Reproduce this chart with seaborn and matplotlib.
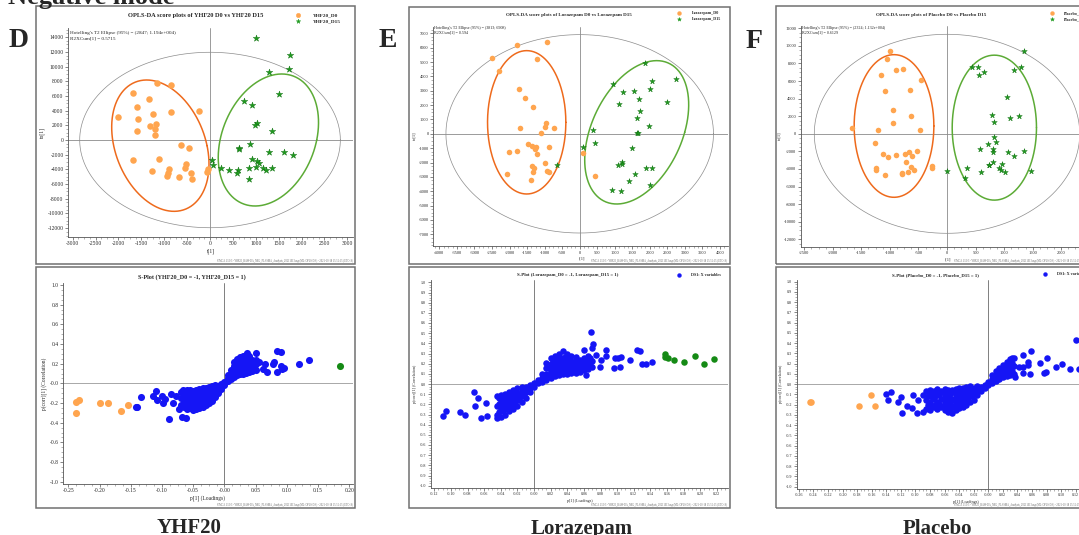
import numpy as np
import matplotlib
matplotlib.use("Agg")
import matplotlib.pyplot as plt
import seaborn as sns
from matplotlib.patches import Rectangle
from matplotlib.lines import Line2D
from matplotlib.ticker import FixedLocator, FuncFormatter, AutoMinorLocator

# ---------------- DATA ----------------
# YHF20 score plot (t[1], to[1])
yhf_d0_t = [-2017, -1690, -1602, -1580, -1602, -1333, -1253, -1311, -1180, -1202, -1194, -1151, -845, -859, -233,
            -626, -452, -1690, -1122, -1267, -903, -918, -932, -677, -532, -546, -408, -401, -73, -36]
yhf_d0_to = [3085, 6352, 4446, 2813, 1270, 5535, 3539, 1951, 2132, 1452, 726, 7804, 7532, 3766, 3993,
             -726, -1134, -2768, -2586, -4220, -3993, -4537, -4900, -5082, -3221, -3857, -4492, -5309, -4356, -3993]
yhf_d15_t = [1005, 1748, 1719, 1289, 1500, 736, 925, 1034, 990, 1355, 874, 641, 641, 1296, 1610, 1821, 925, 1020,
             1063, 51, 73, 233, 422, 619, 583, 852, 1005, 1151, 1216, 1355, 859]
yhf_d15_to = [13929, 11570, 9664, 9210, 6216, 5354, 4809, 2269, 2087, 1225, -544, -1134, -1225, -1633, -1633, -2087,
              -2586, -2813, -3085, -2768, -3358, -3857, -4083, -4083, -4537, -3857, -3630, -3857, -4129, -3811, -5263]

# Lorazepam score plot
lor_d0_t = [-2508, -2290, -1777, -941, -1226, -1720, -1549, -1330, -1691, -969, -979, -732, -1093, -1473, -1349,
            -1235, -884, -1264, -1226, -2024, -1777, -1349, -1292, -1321, -988, -941, -874, -2062, -1378, 95, 437]
lor_d0_to = [5259, 4376, 6188, 6420, 5236, 3100, 2473, 1846, 430, 778, 499, 430, 35, -731, -847,
             -940, -894, -1079, -1405, -1289, -1173, -2241, -2403, -2635, -2055, -2566, -2682, -2798, -3216, -1358, -2937]
lor_d15_t = [1862, 2062, 2746, 2005, 941, 1226, 1539, 1682, 2480, 1112, 1729, 1625, 1986, 380, 1644, 1653, 437, 95,
             1501, -656, 1197, 1197, 1093, 1881, 2062, 1568, 1416, 2005, 922, 1169]
lor_d15_to = [4957, 3680, 3820, 3100, 3471, 2937, 2984, 2450, 2217, 2101, 1590, 1080, 569, 267, 81, 35, -615, -894,
              -1010, -2148, -1985, -2125, -2171, -2403, -2403, -2775, -3309, -3588, -3913, -3982]

# Placebo score plot
pla_d0_t = [-1004, -1057, -1162, -899, -776, -461, -648, -1092, -940, -946, -630, -1664, -1214, -473, -1255, -1115,
            -1027, -893, -736, -660, -619, -531, -718, -630, -1243, -1249, -1086, -782, -782, -689, -572, -269, -269]
pla_d0_to = [9422, 8474, 6730, 7223, 7336, 6123, 4986, 4872, 2711, 1194, 2066, 626, 436, 436, -1005, -2256,
             -2635, -2408, -2332, -2104, -2521, -1915, -3242, -3735, -3848, -4076, -4720, -4417, -4569, -4379, -4114, -3659, -3924]
pla_d15_t = [1343, 432, 543, 566, 654, 1173, 1296, 1057, 794, 829, 1103, 1261, 823, 858, 724, 800, 800, 578, 1074,
             1173, 1354, 811, 736, 736, 969, 911, 946, 1016, 1471, 356, 590, 6, 315]
pla_d15_to = [9460, 7640, 7640, 6730, 6996, 7261, 7640, 4152, 2142, 1308, 1839, 2028, -360, -967, -1194, -1725,
              -2028, -1763, -2028, -2559, -1952, -3242, -3507, -3583, -3394, -3924, -4114, -4341, -4228, -3848, -4303, -4228, -5062]

# Hotelling T2 ellipse radii (t, to) and group ellipses: centre, upper semi-diameter, horizontal half-chord
hotelling = {"YHF20": (2847, 11940), "Lorazepam": (3813, 6908), "Placebo": (2324, 11320)}
group_ell = {
    "YHF20": [(-1085, -771, -299, 8938, 1020), (1275, 0, 291, 8984, 1056)],
    "Lorazepam": [(-1511, 801, 0, 4992, 1116), (1625, 104, 570, 4992, 1368)],
    "Placebo": [(-928, 891, 0, 8114, 698), (829, 701, 0, 8246, 738)],
}

# S-plots: p[1] loadings, p(corr)[1]
yhf_s_d0 = [(-0.2376, -0.186), (-0.2322, -0.169), (-0.237, -0.305), (-0.200, -0.203), (-0.186, -0.203),
            (-0.166, -0.278), (-0.154, -0.220)]
yhf_s_d15 = [(0.185, 0.176)]
yhf_s_blue = [
    (-0.142, -0.24), (-0.140, -0.245), (-0.134, -0.135), (-0.115, -0.13), (-0.110, -0.08), (-0.108, -0.17),
    (-0.100, -0.13), (-0.095, -0.16), (-0.098, -0.20), (-0.088, -0.36), (-0.085, -0.11), (-0.082, -0.20),
    (-0.078, -0.13), (-0.072, -0.26), (-0.068, -0.34), (-0.066, -0.07), (-0.062, -0.35), (-0.060, -0.22),
    (-0.070, -0.22), (-0.070, -0.15), (-0.070, -0.09), (-0.065, -0.24), (-0.065, -0.17), (-0.065, -0.10),
    (-0.060, -0.26), (-0.060, -0.19), (-0.060, -0.12), (-0.060, -0.07), (-0.055, -0.25), (-0.055, -0.18),
    (-0.055, -0.12), (-0.055, -0.07), (-0.050, -0.27), (-0.050, -0.21), (-0.050, -0.14), (-0.050, -0.08),
    (-0.045, -0.26), (-0.045, -0.20), (-0.045, -0.13), (-0.045, -0.07), (-0.040, -0.25), (-0.040, -0.19),
    (-0.040, -0.12), (-0.040, -0.06), (-0.035, -0.24), (-0.035, -0.18), (-0.035, -0.11), (-0.035, -0.05),
    (-0.030, -0.22), (-0.030, -0.16), (-0.030, -0.10), (-0.030, -0.05), (-0.025, -0.20), (-0.025, -0.14),
    (-0.025, -0.08), (-0.025, -0.04), (-0.020, -0.18), (-0.020, -0.12), (-0.020, -0.07), (-0.020, -0.03),
    (-0.015, -0.14), (-0.015, -0.09), (-0.015, -0.05), (-0.015, -0.02), (-0.010, -0.10), (-0.010, -0.06),
    (-0.010, -0.03), (-0.005, -0.06), (-0.005, -0.03), (-0.005, -0.01), (0.000, -0.02), (0.000, 0.01),
    (0.005, 0.02), (0.005, 0.05), (0.005, 0.08), (0.010, 0.04), (0.010, 0.09), (0.010, 0.14),
    (0.015, 0.06), (0.015, 0.12), (0.015, 0.18), (0.015, 0.22), (0.020, 0.08), (0.020, 0.14), (0.020, 0.20),
    (0.020, 0.25), (0.025, 0.09), (0.025, 0.15), (0.025, 0.21), (0.025, 0.27), (0.030, 0.10), (0.030, 0.16),
    (0.030, 0.22), (0.030, 0.28), (0.035, 0.11), (0.035, 0.17), (0.035, 0.23), (0.035, 0.29), (0.040, 0.12),
    (0.040, 0.18), (0.040, 0.24), (0.040, 0.28), (0.045, 0.13), (0.045, 0.19), (0.045, 0.24), (0.050, 0.14),
    (0.050, 0.20), (0.050, 0.24), (0.037, 0.31), (0.050, 0.31), (0.055, 0.22), (0.062, 0.15), (0.065, 0.20),
    (0.068, 0.12), (0.078, 0.20), (0.085, 0.33), (0.090, 0.32), (0.085, 0.12), (0.090, 0.18), (0.095, 0.16),
    (0.120, 0.20), (0.136, 0.24), (0.080, 0.22), (0.092, 0.15),
    (-0.0625, -0.22), (-0.0625, -0.15), (-0.0575, -0.22), (-0.0575, -0.15), (-0.0525, -0.24), (-0.0525, -0.17),
    (-0.0525, -0.11), (-0.0475, -0.23), (-0.0475, -0.16), (-0.0475, -0.10), (-0.0425, -0.22), (-0.0425, -0.15),
    (-0.0425, -0.09), (-0.0375, -0.21), (-0.0375, -0.14), (-0.0375, -0.08), (-0.0325, -0.19), (-0.0325, -0.13),
    (-0.0325, -0.07), (-0.0275, -0.17), (-0.0275, -0.11), (-0.0225, -0.15), (-0.0225, -0.09), (-0.0175, -0.12),
    (-0.0175, -0.07), (-0.0125, -0.08), (0.0125, 0.07), (0.0125, 0.12), (0.0175, 0.09), (0.0175, 0.16),
    (0.0225, 0.11), (0.0225, 0.17), (0.0225, 0.23), (0.0275, 0.12), (0.0275, 0.18), (0.0275, 0.24),
    (0.0325, 0.13), (0.0325, 0.19), (0.0325, 0.25), (0.0375, 0.14), (0.0375, 0.20), (0.0375, 0.26),
    (0.0425, 0.15), (0.0425, 0.21), (0.0475, 0.16), (0.0475, 0.22)]

lor_s_d15 = [(0.158, 0.295), (0.158, 0.269), (0.161, 0.259), (0.168, 0.236), (0.181, 0.22), (0.194, 0.275),
             (0.204, 0.193), (0.216, 0.246)]
lor_s_blue = [
    (-0.109, -0.311), (-0.106, -0.262), (-0.089, -0.272), (-0.083, -0.305), (-0.072, -0.075), (-0.068, -0.141),
    (-0.071, -0.216), (-0.058, -0.184), (-0.057, -0.315), (-0.064, -0.338),
    (-0.045, -0.33), (-0.045, -0.30), (-0.045, -0.22), (-0.045, -0.12), (-0.040, -0.32), (-0.040, -0.25),
    (-0.040, -0.18), (-0.040, -0.11), (-0.035, -0.30), (-0.035, -0.23), (-0.035, -0.16), (-0.035, -0.10),
    (-0.030, -0.27), (-0.030, -0.20), (-0.030, -0.14), (-0.030, -0.08), (-0.025, -0.25), (-0.025, -0.18),
    (-0.025, -0.12), (-0.025, -0.06), (-0.020, -0.22), (-0.020, -0.15), (-0.020, -0.09), (-0.020, -0.04),
    (-0.015, -0.18), (-0.015, -0.12), (-0.015, -0.06), (-0.015, -0.03), (-0.010, -0.14), (-0.010, -0.08),
    (-0.010, -0.03), (-0.005, -0.08), (-0.005, -0.04), (-0.005, -0.01), (0.000, -0.03), (0.000, 0.01),
    (0.005, 0.01), (0.005, 0.04), (0.010, 0.02), (0.010, 0.06), (0.010, 0.10), (0.015, 0.04), (0.015, 0.10),
    (0.015, 0.16), (0.015, 0.21), (0.020, 0.06), (0.020, 0.13), (0.020, 0.20), (0.020, 0.26), (0.025, 0.08),
    (0.025, 0.14), (0.025, 0.21), (0.025, 0.28), (0.030, 0.09), (0.030, 0.15), (0.030, 0.22), (0.030, 0.30),
    (0.035, 0.10), (0.035, 0.16), (0.035, 0.23), (0.035, 0.32), (0.040, 0.10), (0.040, 0.17), (0.040, 0.24),
    (0.040, 0.30), (0.045, 0.11), (0.045, 0.17), (0.045, 0.23), (0.045, 0.28), (0.050, 0.11), (0.050, 0.17),
    (0.050, 0.24), (0.050, 0.27), (0.055, 0.12), (0.055, 0.18), (0.055, 0.24), (0.060, 0.14), (0.060, 0.20),
    (0.060, 0.26), (0.060, 0.33), (0.065, 0.15), (0.065, 0.21), (0.065, 0.28), (0.070, 0.17), (0.070, 0.23),
    (0.070, 0.35), (0.0686, 0.508), (0.071, 0.39), (0.086, 0.334), (0.087, 0.275), (0.081, 0.236), (0.097, 0.252),
    (0.101, 0.26), (0.105, 0.27), (0.096, 0.154), (0.103, 0.164), (0.115, 0.236), (0.124, 0.334), (0.127, 0.325),
    (0.130, 0.20), (0.135, 0.20), (0.142, 0.22), (0.079, 0.17), (0.075, 0.285), (0.063, 0.09),
    (-0.0425, -0.28), (-0.0425, -0.20), (-0.0425, -0.14), (-0.0375, -0.27), (-0.0375, -0.20), (-0.0375, -0.13),
    (-0.0325, -0.25), (-0.0325, -0.18), (-0.0325, -0.11), (-0.0275, -0.23), (-0.0275, -0.16), (-0.0275, -0.10),
    (-0.0225, -0.20), (-0.0225, -0.13), (-0.0225, -0.07), (-0.0175, -0.16), (-0.0175, -0.10), (-0.0125, -0.11),
    (-0.0125, -0.05), (0.0125, 0.07), (0.0175, 0.09), (0.0175, 0.16), (0.0225, 0.10), (0.0225, 0.17),
    (0.0225, 0.23), (0.0275, 0.11), (0.0275, 0.18), (0.0275, 0.25), (0.0325, 0.12), (0.0325, 0.19),
    (0.0325, 0.26), (0.0375, 0.13), (0.0375, 0.20), (0.0375, 0.27), (0.0425, 0.14), (0.0425, 0.21),
    (0.0425, 0.27), (0.0475, 0.14), (0.0475, 0.20), (0.0525, 0.15), (0.0525, 0.21), (0.0575, 0.16),
    (0.0575, 0.22), (0.0625, 0.18), (0.0625, 0.24), (0.0675, 0.19), (0.0675, 0.26)]

pla_s_d0 = [(-0.2449, -0.171), (-0.2435, -0.171), (-0.177, -0.21), (-0.161, -0.106), (-0.155, -0.21)]
pla_s_blue = [
    (-0.1405, -0.093), (-0.133, -0.073), (-0.137, -0.154), (-0.120, -0.122), (-0.1236, -0.171), (-0.118, -0.278),
    (-0.112, -0.213), (-0.105, -0.236), (-0.103, -0.106), (-0.098, -0.285), (-0.096, -0.154), (-0.090, -0.106),
    (-0.089, -0.268),
    (-0.085, -0.24), (-0.085, -0.15), (-0.085, -0.07), (-0.080, -0.25), (-0.080, -0.17), (-0.080, -0.10),
    (-0.080, -0.06), (-0.075, -0.22), (-0.075, -0.14), (-0.075, -0.07), (-0.070, -0.24), (-0.070, -0.17),
    (-0.070, -0.10), (-0.070, -0.05), (-0.065, -0.22), (-0.065, -0.14), (-0.065, -0.07), (-0.060, -0.25),
    (-0.060, -0.18), (-0.060, -0.11), (-0.060, -0.05), (-0.055, -0.27), (-0.055, -0.20), (-0.055, -0.13),
    (-0.055, -0.06), (-0.050, -0.28), (-0.050, -0.21), (-0.050, -0.14), (-0.050, -0.06), (-0.045, -0.25),
    (-0.045, -0.18), (-0.045, -0.11), (-0.045, -0.05), (-0.040, -0.23), (-0.040, -0.16), (-0.040, -0.09),
    (-0.040, -0.04), (-0.035, -0.22), (-0.035, -0.15), (-0.035, -0.08), (-0.035, -0.04), (-0.030, -0.20),
    (-0.030, -0.13), (-0.030, -0.07), (-0.030, -0.03), (-0.025, -0.17), (-0.025, -0.11), (-0.025, -0.05),
    (-0.025, -0.02), (-0.020, -0.15), (-0.020, -0.09), (-0.020, -0.04), (-0.015, -0.11), (-0.015, -0.06),
    (-0.015, -0.02), (-0.010, -0.07), (-0.010, -0.03), (-0.005, -0.04), (-0.005, -0.01), (0.000, -0.01),
    (0.000, 0.02), (0.005, 0.01), (0.005, 0.05), (0.005, 0.09), (0.010, 0.03), (0.010, 0.08), (0.010, 0.13),
    (0.015, 0.05), (0.015, 0.10), (0.015, 0.16), (0.020, 0.07), (0.020, 0.13), (0.020, 0.19), (0.025, 0.08),
    (0.025, 0.15), (0.025, 0.22), (0.030, 0.09), (0.030, 0.17), (0.030, 0.25), (0.035, 0.10), (0.035, 0.18),
    (0.035, 0.26),
    (0.033, 0.259), (0.047, 0.28), (0.0586, 0.32), (0.055, 0.22), (0.054, 0.187), (0.048, 0.17), (0.042, 0.17),
    (0.037, 0.073), (0.048, 0.112), (0.057, 0.096), (0.071, 0.203), (0.076, 0.105), (0.079, 0.122),
    (0.081, 0.252), (0.093, 0.164), (0.101, 0.193), (0.112, 0.145), (0.121, 0.431), (0.125, 0.145),
    (-0.0825, -0.20), (-0.0825, -0.12), (-0.0775, -0.21), (-0.0775, -0.13), (-0.0725, -0.20), (-0.0725, -0.12),
    (-0.0675, -0.19), (-0.0675, -0.11), (-0.0625, -0.21), (-0.0625, -0.14), (-0.0625, -0.08), (-0.0575, -0.23),
    (-0.0575, -0.16), (-0.0575, -0.09), (-0.0525, -0.24), (-0.0525, -0.17), (-0.0525, -0.10), (-0.0475, -0.22),
    (-0.0475, -0.15), (-0.0475, -0.08), (-0.0425, -0.20), (-0.0425, -0.13), (-0.0425, -0.07), (-0.0375, -0.19),
    (-0.0375, -0.12), (-0.0375, -0.06), (-0.0325, -0.17), (-0.0325, -0.10), (-0.0275, -0.15), (-0.0275, -0.08),
    (-0.0225, -0.12), (-0.0225, -0.06), (-0.0175, -0.08), (-0.0125, -0.05), (0.0075, 0.06), (0.0125, 0.08),
    (0.0175, 0.10), (0.0175, 0.15), (0.0225, 0.11), (0.0225, 0.17), (0.0275, 0.12), (0.0275, 0.19),
    (0.0325, 0.13), (0.0325, 0.21)]

# ---------------- STYLE ----------------
sns.set_theme(style="white")
plt.rcParams['font.family'] = ['Liberation Serif', 'DejaVu Serif']
plt.rcParams['axes.unicode_minus'] = False

ORANGE = "#FFA54F"
GREEN_STAR = "#1E9A1E"
ELL_OR = "#EE6A1C"
ELL_GR = "#5CAB36"
BLUE = "#1515F5"
SGREEN = "#158A15"

W, H = 1079, 535
fig = plt.figure(figsize=(W / 100, H / 100), dpi=100)
fig.patch.set_facecolor("white")


def fx(x):
    return x / W


def fy(y):
    return 1 - y / H


def add_ax(l, t, r, b):
    ax = fig.add_axes([l / W, 1 - b / H, (r - l) / W, (b - t) / H])
    ax.set_facecolor("none")
    for s in ("top", "right"):
        ax.spines[s].set_visible(False)
    for s in ("left", "bottom"):
        ax.spines[s].set_color("#555555")
        ax.spines[s].set_linewidth(0.6)
    return ax


def frame(l, t, r, b):
    fig.add_artist(Rectangle((fx(l), fy(b)), (r - l) / W, (b - t) / H, transform=fig.transFigure,
                             fill=False, ec="#707070", lw=1.1))


def style_ticks(ax, fs, xt, yt, xfmt, yfmt):
    ax.xaxis.set_major_locator(FixedLocator(xt))
    ax.yaxis.set_major_locator(FixedLocator(yt))
    ax.xaxis.set_major_formatter(FuncFormatter(xfmt))
    ax.yaxis.set_major_formatter(FuncFormatter(yfmt))
    ax.xaxis.set_minor_locator(AutoMinorLocator(4))
    ax.yaxis.set_minor_locator(AutoMinorLocator(4))
    ax.tick_params(axis="both", which="major", direction="out", length=2.2, width=0.5, pad=1.2,
                   labelsize=fs, color="#555555", bottom=True, left=True)
    ax.tick_params(axis="both", which="minor", direction="out", length=1.2, width=0.4, color="#777777",
                   bottom=True, left=True)


def ellipse_curve(ax, cx, cy, ux, uy, hx, color, lw):
    t = np.linspace(0, 2 * np.pi, 300)
    ax.plot(cx + ux * np.sin(t) + hx * np.cos(t), cy + uy * np.sin(t), color=color, lw=lw)


def int_fmt(v, p):
    return f"{int(round(v))}"


def score_panel(box, xlim, ylim, xt, yt, fs, name, d0, d15, ms):
    ax = add_ax(*box)
    ax.set_xlim(*xlim)
    ax.set_ylim(*ylim)
    ax.axhline(0, color="#8a8a8a", lw=0.6)
    ax.axvline(0, color="#8a8a8a", lw=0.6)
    rx, ry = hotelling[name]
    ellipse_curve(ax, 0, 0, 0, ry, rx, "#8c8c8c", 0.5)
    (o, g) = group_ell[name]
    ellipse_curve(ax, *o, ELL_OR, 1.1)
    ellipse_curve(ax, *g, ELL_GR, 1.1)
    sns.scatterplot(x=d0[0], y=d0[1], ax=ax, color=ORANGE, marker="o", s=ms, linewidth=0, legend=False, zorder=3)
    sns.scatterplot(x=d15[0], y=d15[1], ax=ax, color=GREEN_STAR, marker="*", s=ms * 1.1, linewidth=0.3,
                    edgecolor="#0d6e0d", legend=False, zorder=3)
    style_ticks(ax, fs, xt, yt, int_fmt, int_fmt)
    ax.set_xlabel("t[1]", fontsize=fs, labelpad=1.5)
    ax.set_ylabel("to[1]", fontsize=fs, labelpad=1.5)
    return ax


def s_panel(box, xlim, xt, yt, fs, blue, orange, green, ms, zero_y_neg):
    ax = add_ax(*box)
    ax.set_xlim(*xlim)
    ax.set_ylim(-1.02, 1.02)
    ax.axhline(0, color="#9a9a9a", lw=0.6)
    ax.axvline(0, color="#6a6a6a", lw=0.6)
    bx, by = zip(*blue)
    sns.scatterplot(x=list(bx), y=list(by), ax=ax, color=BLUE, s=ms, linewidth=0, legend=False, zorder=3)
    if orange:
        ox, oy = zip(*orange)
        sns.scatterplot(x=list(ox), y=list(oy), ax=ax, color=ORANGE, s=ms, linewidth=0, legend=False, zorder=3)
    if green:
        gx, gy = zip(*green)
        sns.scatterplot(x=list(gx), y=list(gy), ax=ax, color=SGREEN, s=ms, linewidth=0, legend=False, zorder=3)

    def xf(v, p):
        return "-0.00" if abs(v) < 1e-9 else f"{v:.2f}"

    def yf(v, p):
        if abs(v) < 1e-9:
            return "-0.0" if zero_y_neg else "0.0"
        return f"{v:.1f}"
    style_ticks(ax, fs, xt, yt, xf, yf)
    ax.set_xlabel("p[1] (Loadings)", fontsize=fs, labelpad=1.5)
    ax.set_ylabel("p(corr)[1] (Correlation)", fontsize=fs, labelpad=1.5)
    return ax


# ---------------- FRAMES ----------------
frame(35.7, 5.7, 355, 264.3)
frame(35.7, 267.3, 355, 508.3)
frame(409, 6.7, 729.5, 263.5)
frame(409, 267, 729.5, 508)
frame(775.7, 6, 1100, 264)
frame(775.7, 267, 1100, 508)

# ---------------- SCORE PLOTS ----------------
score_panel((68.3, 28.3, 352.7, 236.7), (-3096, 3117), (-13162, 15203),
            np.arange(-3000, 3001, 500), np.arange(-12000, 14001, 2000), 4.0, "YHF20",
            (yhf_d0_t, yhf_d0_to), (yhf_d15_t, yhf_d15_to), 22)
score_panel((433.3, 26.7, 728.3, 246), (-4173, 4236), (-7813, 7460),
            np.arange(-4000, 4001, 500), np.arange(-7000, 7001, 1000), 3.2, "Lorazepam",
            (lor_d0_t, lor_d0_to), (lor_d15_t, lor_d15_to), 16)
score_panel((800.7, 25.7, 1093.3, 246.7), (-2562, 2562), (-12843, 12298),
            np.arange(-2500, 2501, 500), np.arange(-12000, 12001, 2000), 3.2, "Placebo",
            (pla_d0_t, pla_d0_to), (pla_d15_t, pla_d15_to), 16)

# ---------------- S-PLOTS ----------------
s_panel((63.3, 283, 352.7, 483.7), (-0.258, 0.2055), np.round(np.arange(-0.25, 0.201, 0.05), 2),
        np.round(np.arange(-1.0, 1.01, 0.2), 1), 4.0, yhf_s_blue, yhf_s_d0, yhf_s_d15, 26, True)
s_panel((430.7, 280.3, 728.3, 487.7), (-0.1243, 0.2337), np.round(np.arange(-0.12, 0.221, 0.02), 2),
        np.round(np.arange(-1.0, 1.01, 0.1), 1), 3.0, lor_s_blue, None, lor_s_d15, 22, False)
s_panel((796.7, 279.6, 1134, 488.7), (-0.263, 0.20), np.round(np.arange(-0.26, 0.201, 0.02), 2),
        np.round(np.arange(-1.0, 1.01, 0.1), 1), 3.0, pla_s_blue, pla_s_d0, None, 22, False)

# ---------------- TEXTS ----------------
def ftext(x, y, s, **kw):
    fig.text(fx(x), fy(y), s, **kw)

ftext(8, 4, "Negative mode", fontsize=19, fontweight="bold", ha="left", va="baseline")
ftext(9, 47, "D", fontsize=20, fontweight="bold", ha="left", va="baseline")
ftext(379, 47, "E", fontsize=20, fontweight="bold", ha="left", va="baseline")
ftext(746, 48, "F", fontsize=20, fontweight="bold", ha="left", va="baseline")

ftext(189, 533, "YHF20", fontsize=15, fontweight="bold", ha="center", va="baseline")
ftext(582, 534, "Lorazepam", fontsize=15, fontweight="bold", ha="center", va="baseline")
ftext(937, 534, "Placebo", fontsize=15, fontweight="bold", ha="center", va="baseline")

ftext(195.5, 16, "OPLS-DA score plots of YHF20 D0 vs YHF20 D15", fontsize=4.6, fontweight="bold",
      ha="center", va="center")
ftext(569, 15, "OPLS-DA score plots of Lorazepam D0 vs Lorazepam D15", fontsize=3.6, fontweight="bold",
      ha="center", va="center")
ftext(931, 15, "OPLS-DA score plots of Placebo D0 vs Placebo D15", fontsize=3.6, fontweight="bold",
      ha="center", va="center")

ftext(192, 277, "S-Plot (YHF20_D0 = -1, YHF20_D15 = 1)", fontsize=4.4, fontweight="bold",
      ha="center", va="center")
ftext(568, 275, "S-Plot (Lorazepam_D0 = -1, Lorazepam_D15 = 1)", fontsize=3.4, fontweight="bold",
      ha="center", va="center")
ftext(935, 275, "S-Plot (Placebo_D0 = -1, Placebo_D15 = 1)", fontsize=3.4, fontweight="bold",
      ha="center", va="center")

ftext(70, 33, "Hotelling's T2 Ellipse (95%) = (2847; 1.194e+004)", fontsize=3.7, ha="left", va="center")
ftext(70, 39, "R2XCum[1] = 0.5715", fontsize=3.7, ha="left", va="center")
ftext(434, 28, "Hotelling's T2 Ellipse (95%) = (3813; 6908)", fontsize=3.0, ha="left", va="center")
ftext(434, 32.5, "R2XCum[1] = 0.594", fontsize=3.0, ha="left", va="center")
ftext(802, 28, "Hotelling's T2 Ellipse (95%) = (2324; 1.132e+004)", fontsize=3.0, ha="left", va="center")
ftext(802, 33, "R2XCum[1] = 0.6129", fontsize=3.0, ha="left", va="center")


def leg_marker(x, y, color, marker, ms, ec=None):
    fig.add_artist(Line2D([fx(x)], [fy(y)], marker=marker, color=color, markersize=ms, linestyle="none",
                          markeredgecolor=ec if ec else color, markeredgewidth=0.3, transform=fig.transFigure))


leg_marker(298, 15, ORANGE, "o", 3.2)
leg_marker(298, 21, GREEN_STAR, "*", 3.4)
ftext(313, 15, "YHF20_D0", fontsize=3.8, fontweight="bold", ha="left", va="center")
ftext(313, 21, "YHF20_D15", fontsize=3.8, fontweight="bold", ha="left", va="center")

leg_marker(679, 13, ORANGE, "o", 2.8)
leg_marker(679, 19, GREEN_STAR, "*", 3.0)
ftext(692, 13, "Lorazepam_D0", fontsize=3.0, fontweight="bold", ha="left", va="center")
ftext(692, 19, "Lorazepam_D15", fontsize=3.0, fontweight="bold", ha="left", va="center")

leg_marker(1052, 13, ORANGE, "o", 2.8)
leg_marker(1052, 19, GREEN_STAR, "*", 3.0)
ftext(1064, 13, "Placebo_D0", fontsize=3.0, fontweight="bold", ha="left", va="center")
ftext(1064, 19, "Placebo_D15", fontsize=3.0, fontweight="bold", ha="left", va="center")

leg_marker(679, 275, BLUE, "o", 2.8)
ftext(691, 275, "DS1: X variables", fontsize=3.0, fontweight="bold", ha="left", va="center")
leg_marker(1045, 274, BLUE, "o", 2.8)
ftext(1057, 274, "DS1: X variables", fontsize=3.0, fontweight="bold", ha="left", va="center")

footer = "SIMCA 13.0.3 - YHF20_RAW-DA_NEG_PLASMA_Analysis_20211013.usp (M2: OPLS-DA) - 2021-10-18 15:52:15 (UTC+8)"
for (x, y) in [(353, 261), (353, 505), (727, 260.5), (727, 505), (1090, 261), (1090, 505)]:
    ftext(x, y, footer, fontsize=1.9, color="#666666", ha="right", va="center")

fig.savefig("out.png", dpi=100, facecolor="white")
